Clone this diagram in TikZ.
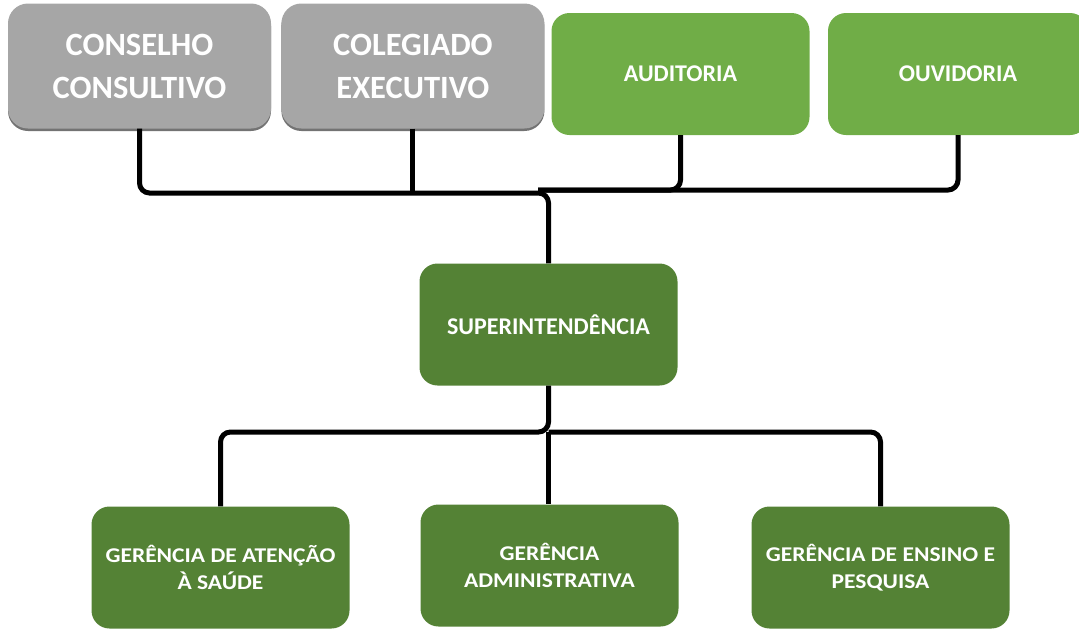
\documentclass[tikz,border=0pt]{standalone}
\usepackage{fontspec}
\setmainfont{Carlito}
\newfontfamily\largofont[FakeStretch=1.12]{Carlito}
\usetikzlibrary{positioning, shadows}
\definecolor{cinza}{HTML}{A6A6A6}
\definecolor{verdeclaro}{HTML}{70AD47}
\definecolor{verdeescuro}{HTML}{548235}

\begin{document}
\begin{tikzpicture}[x=1pt, y=-1pt,
     node distance = 10pt and 10pt,
        box/.style = {rectangle, rounded corners=18pt, draw=none, fill=#1,
                     text=white, align=center, inner sep=2pt,
                     minimum width=258pt, minimum height=122pt,
                     font=\bfseries\fontsize{24}{27}\selectfont},
        gerbox/.style = {box=verdeescuro,
                     font=\largofont\bfseries\fontsize{21}{27}\selectfont},
     grybox/.style = {box=cinza, rounded corners=20pt,
                     minimum width=263pt, minimum height=125pt,
                     font=\bfseries\fontsize{32.5}{43}\selectfont,
                     drop shadow={shadow xshift=0pt, shadow yshift=-2.5pt,
                                  fill=black!55, opacity=1}},
        bus/.style = {line width=5pt, rounded corners=10pt}
                        ]
\useasboundingbox (0,0) rectangle (1079,630);
% top row
\node (conselho) [grybox] at (139.5,66) {CONSELHO\\CONSULTIVO};
\node (colegiado) [grybox, right=10pt of conselho] {COLEGIADO\\EXECUTIVO};
\node (auditoria) [box=verdeclaro] at (680.5,74) {AUDITORIA};
\node (ouvidoria) [box=verdeclaro, minimum width=260pt] at (958,74) {OUVIDORIA};
% middle
\node (super) [box=verdeescuro] at (548.5,324.5) {SUPERINTENDÊNCIA};
% bottom row
\node (atencao) [gerbox] at (220.5,567.5) {GERÊNCIA DE ATENÇÃO\\À SAÚDE};
\node (adm) [gerbox] at (549.5,565.5) {GERÊNCIA\\ADMINISTRATIVA};
\node (ensino) [gerbox] at (880.5,567.5) {GERÊNCIA DE ENSINO E\\PESQUISA};
% connectors
\coordinate (topL) at (548.5,193);
\coordinate (topR) at (538,190);
\coordinate (botM) at (548.5,432);
\draw[bus] (conselho.south) |- (topL) -- (super.north);
\draw[bus] (colegiado.south) -- (colegiado.south |- topL);
\draw[bus] (auditoria.south) |- (topR);
\draw[bus] (ouvidoria.south) |- (topR);
\draw[bus] (super.south) -- (botM) -| (atencao.north);
\draw[bus] (botM) -| (ensino.north);
\draw[bus] (botM) -- (botM |- adm.north);
\end{tikzpicture}
\end{document}
